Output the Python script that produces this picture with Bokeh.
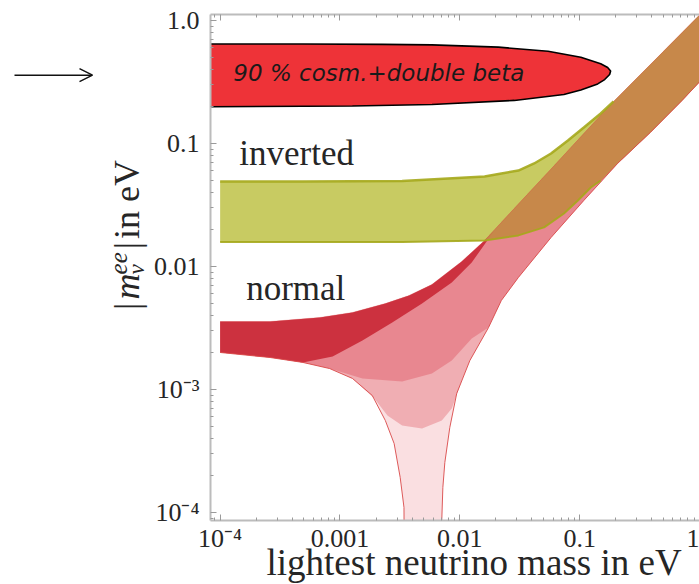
import math
from bokeh.plotting import figure
from bokeh.layouts import row
from bokeh.models import (Range1d, LogAxis, FixedTicker, CustomJSTickFormatter,
                          Label, Arrow, OpenHead, Title)
from bokeh.embed import file_html
from bokeh.resources import INLINE

# ---------------------------------------------------------------------------
# |m_ee| allowed regions versus the lightest neutrino mass (both in eV)
# ---------------------------------------------------------------------------

# inverted ordering: upper / lower edge of the band
io_upper_m = [1.0e-4, 4.90e-4, 3.30e-3, 0.0161, 0.0222, 0.0308, 0.0417, 0.0577,
              0.0798, 0.1083, 0.1499, 0.1919, 0.389, 0.953, 1.05]
io_upper_mee = [0.0491, 0.0491, 0.0495, 0.0539, 0.0570, 0.0603, 0.0688, 0.0830,
                0.1058, 0.1349, 0.1753, 0.2196, 0.4387, 1.058, 1.16]
io_lower_m = [1.0e-4, 4.90e-4, 3.30e-3, 0.0161, 0.0308, 0.0505, 0.0739, 0.0967,
              0.1238, 0.1499, 0.2072, 0.389, 0.716, 1.05]
io_lower_mee = [0.0158, 0.0158, 0.0158, 0.0163, 0.0179, 0.0208, 0.0270, 0.0344,
                0.0439, 0.0500, 0.0688, 0.1229, 0.2237, 0.333]

# normal ordering: upper edge
no_upper_m = [1.0e-4, 2.61e-4, 6.78e-4, 1.27e-3, 2.39e-3, 3.77e-3, 5.85e-3, 0.01037,
              0.0161, 0.0308, 0.0577, 0.1083, 0.1919, 0.389, 0.953, 1.05]
no_upper_mee = [0.00357, 0.00357, 0.00385, 0.00423, 0.00500, 0.00581, 0.00714, 0.01098,
                0.0163, 0.0322, 0.0620, 0.1206, 0.2196, 0.4387, 1.058, 1.16]

# normal ordering: lower edge (cancellation funnel reaches |m_ee| -> 0)
no_lower_m = [1.0e-4, 2.61e-4, 4.90e-4, 8.20e-4, 1.27e-3, 1.86e-3, 2.39e-3, 2.83e-3,
              3.18e-3, 3.42e-3, 3.52e-3, 7.06e-3, 7.08e-3, 7.22e-3, 7.50e-3, 8.25e-3,
              9.42e-3, 0.01213, 0.01736, 0.0222, 0.0308, 0.0577, 0.1083, 0.2072,
              0.389, 0.716, 1.05]
no_lower_mee = [0.00200, 0.00182, 0.00166, 0.00148, 0.00123, 8.94e-4, 5.60e-4, 3.64e-4,
                1.93e-4, 1.10e-4, 1.0e-6, 1.0e-6, 8.94e-5, 1.60e-4, 2.55e-4, 4.91e-4,
                9.28e-4, 1.72e-3, 3.19e-3, 5.29e-3, 8.14e-3, 0.0172, 0.0344, 0.0688,
                0.1229, 0.2237, 0.333]

# normal ordering: density contours of the scatter (outer -> inner)
no_outer_m = [1.0e-4, 2.61e-4, 4.90e-4, 8.20e-4, 1.27e-3, 1.935e-3, 2.49e-3, 3.30e-3,
              4.84e-3, 7.08e-3, 8.57e-3, 0.01037, 0.01213, 0.01736, 0.0222, 0.0308,
              0.0577, 0.1083, 0.2072, 0.389, 0.716, 1.05]
no_outer_mee = [0.00200, 0.00182, 0.00166, 0.00148, 0.00123, 8.45e-4, 6.14e-4, 5.10e-4,
                4.82e-4, 5.60e-4, 7.01e-4, 1.18e-3, 1.72e-3, 3.19e-3, 5.29e-3, 8.14e-3,
                0.0172, 0.0344, 0.0688, 0.1229, 0.2237, 0.333]
no_inner_m = [1.0e-4, 2.61e-4, 4.90e-4, 8.20e-4, 1.54e-3, 3.30e-3, 5.85e-3, 8.57e-3,
              0.01257, 0.01736, 0.0222, 0.0308, 0.0577, 0.1083, 0.2072, 0.389, 0.716, 1.05]
no_inner_mee = [0.00200, 0.00182, 0.00166, 0.00148, 1.23e-3, 1.16e-3, 1.35e-3, 1.72e-3,
                2.60e-3, 3.19e-3, 5.29e-3, 8.14e-3, 0.0172, 0.0344, 0.0688, 0.1229,
                0.2237, 0.333]

# normal ordering: densest strip (lower side; the upper side follows the band edge)
no_core_m = [1.0e-4, 2.61e-4, 4.90e-4, 8.68e-4, 1.54e-3, 2.73e-3, 4.84e-3, 8.57e-3,
             0.01257, 0.01919]
no_core_mee = [0.00200, 0.00182, 0.00166, 0.001855, 0.00250, 0.00350, 0.00500, 0.00741,
               0.01078, 0.01926]

# 90 % bound from cosmology + double beta decay
bound_m = [7.70e-5, 4.90e-4, 2.26e-3, 5.85e-3, 0.0210, 0.0545, 0.1023, 0.1499, 0.1713,
           0.1813, 0.1779, 0.1617, 0.1415, 0.1023, 0.0739, 0.0285, 5.85e-3, 1.27e-3,
           7.70e-5]
bound_mee = [0.644, 0.644, 0.640, 0.634, 0.607, 0.563, 0.503, 0.445, 0.415, 0.389,
             0.364, 0.331, 0.305, 0.272, 0.250, 0.224, 0.2075, 0.2018, 0.1988]

x_tick_values = [1e-4, 1e-3, 1e-2, 1e-1, 1.0]
x_tick_labels = ["10⁻⁴", "0.001", "0.01", "0.1", "1"]
y_tick_values = [1e-4, 1e-3, 1e-2, 1e-1, 1.0]
y_tick_labels = ["10⁻⁴", "10⁻³", "0.01", "0.1", "1.0"]

# ---------------------------------------------------------------------------
SERIF = "Liberation Serif"
TEXT = "#262626"
AXIS_GREY = "#bcbcbc"
TICK_GREY = "#9a9a9a"

SIDE_W = 150      # width of the strip holding the arrow and the vertical title
MAIN_W = 699 - SIDE_W
HEIGHT = 584
MID = 0.3375      # (ascent - descent) / 2 of the serif face, in em


def minor_ticks(lo_exp, hi_exp):
    return [m * 10.0 ** e for e in range(lo_exp, hi_exp) for m in range(2, 10)]


def tick_formatter(values, labels):
    return CustomJSTickFormatter(args=dict(vals=values, labs=labels), code="""
        for (let i = 0; i < vals.length; i++) {
            if (Math.abs(Math.log10(tick) - Math.log10(vals[i])) < 1e-6) { return labs[i]; }
        }
        return "";
    """)


# ---------------------------------------------------------------------------
# main panel
p = figure(width=MAIN_W, height=HEIGHT, x_axis_type="log", y_axis_type="log",
           x_range=Range1d(10 ** -4.0804, 1.0001),
           y_range=Range1d(10 ** -4.065, 10 ** 0.0488),
           output_backend="svg", toolbar_location=None,
           min_border_left=207 - SIDE_W, min_border_right=0,
           min_border_top=14, min_border_bottom=HEIGHT - 520)
p.grid.visible = False
p.outline_line_color = None
p.background_fill_color = "white"
p.border_fill_color = "white"


def style_axis(ax, ticker):
    ax.ticker = ticker
    ax.axis_line_color = AXIS_GREY
    ax.axis_line_width = 2
    ax.major_tick_in = 6
    ax.major_tick_out = 0
    ax.minor_tick_in = 3
    ax.minor_tick_out = 0
    ax.major_tick_line_color = TICK_GREY
    ax.minor_tick_line_color = TICK_GREY
    ax.major_label_text_font = SERIF
    ax.major_label_text_font_size = "26px"
    ax.major_label_text_color = TEXT


style_axis(p.xaxis[0], FixedTicker(ticks=x_tick_values, minor_ticks=minor_ticks(-5, 1)))
p.xaxis[0].formatter = tick_formatter(x_tick_values, x_tick_labels)
p.xaxis[0].major_label_standoff = 3

style_axis(p.yaxis[0], FixedTicker(ticks=y_tick_values, minor_ticks=minor_ticks(-5, 1)))
p.yaxis[0].formatter = tick_formatter(y_tick_values, y_tick_labels)
p.yaxis[0].major_label_standoff = 11

# frame line along the top, ticks only
top = LogAxis()
style_axis(top, FixedTicker(ticks=x_tick_values, minor_ticks=minor_ticks(-5, 1)))
top.formatter = CustomJSTickFormatter(code="return ' ';")
top.major_label_text_font_size = "2px"
top.major_label_standoff = 0
p.add_layout(top, "above")

# x axis title, tucked under the tick labels
p.add_layout(Title(text="lightest neutrino mass in eV", align="left", offset=56,
                   vertical_align="top", standoff=-28,
                   text_font=SERIF, text_font_size="37px", text_font_style="normal",
                   text_color=TEXT), "below")

# inverted band
p.patch(io_upper_m + io_lower_m[::-1], io_upper_mee + io_lower_mee[::-1],
        fill_color="#c8cb62", line_color=None)

# normal band, density levels
p.patch(no_upper_m + no_lower_m[::-1], no_upper_mee + no_lower_mee[::-1],
        fill_color="#e03a46", fill_alpha=0.16, line_color=None)
p.patch(no_upper_m + no_outer_m[::-1], no_upper_mee + no_outer_mee[::-1],
        fill_color="#d8303e", fill_alpha=0.28, line_color=None)
p.patch(no_upper_m + no_inner_m[::-1], no_upper_mee + no_inner_mee[::-1],
        fill_color="#d8303e", fill_alpha=0.30, line_color=None)
n_core = sum(1 for m in no_upper_m if m <= 0.0162)
p.patch(no_upper_m[:n_core] + no_core_m[::-1], no_upper_mee[:n_core] + no_core_mee[::-1],
        fill_color="#c41c2a", fill_alpha=0.80, line_color=None)

# where both orderings overlap
k_no = n_core - 1
k_io = sum(1 for m in io_lower_m if m < 0.016)
p.patch(no_upper_m[k_no:] + io_lower_m[k_io:][::-1],
        no_upper_mee[k_no:] + io_lower_mee[k_io:][::-1],
        fill_color="#c68a4a", fill_alpha=0.92, line_color=None)

p.line(no_lower_m, no_lower_mee, line_color="#d94848", line_width=0.9)
p.line(no_upper_m, no_upper_mee, line_color="#d94848", line_width=0.7, line_alpha=0.35)

# olive edges of the inverted band
p.line(io_upper_m[:12], io_upper_mee[:12], line_color="#a5a91c", line_width=2.5, line_alpha=0.9)
p.line(io_lower_m[:10], io_lower_mee[:10], line_color="#a5a91c", line_width=2.0, line_alpha=0.9)

# bound region
p.patch(bound_m, bound_mee, fill_color="#ee3338", line_color="black", line_width=1.6)
p.add_layout(Label(x=2.11e-3, y=0.371, text="90 % cosm.+double beta",
                   text_font="DejaVu Sans", text_font_style="italic",
                   text_font_size="23px", text_color="#1a1a1a",
                   text_align="center", text_baseline="middle"))

# band names
p.add_layout(Label(x=1.445e-4, y=0.0826, text="inverted", text_font=SERIF,
                   text_font_size="35px", text_color=TEXT, text_baseline="middle"))
p.add_layout(Label(x=1.65e-4, y=0.0066, text="normal", text_font=SERIF,
                   text_font_size="35px", text_color=TEXT, text_baseline="middle"))

# ---------------------------------------------------------------------------
# left strip: arrow and the vertical title |m_nu^ee| in eV (pixel coordinates)
side = figure(width=SIDE_W, height=HEIGHT, x_range=Range1d(0, SIDE_W),
              y_range=Range1d(HEIGHT, 0), x_axis_location=None, y_axis_location=None,
              min_border=0, toolbar_location=None, output_backend="svg")
side.grid.visible = False
side.outline_line_color = None
side.background_fill_color = "white"
side.border_fill_color = "white"

side.add_layout(Arrow(end=OpenHead(size=13, line_width=1.5, line_color="#111111"),
                      x_start=14, y_start=70, x_end=92, y_end=70,
                      line_color="#111111", line_width=1.5))

ylab = [  # text, baseline x, start y, style, size
    ("|", 139, 341, "normal", 36),
    ("m", 139, 329, "italic", 36),
    ("ee", 126, 300, "italic", 25),
    ("ν", 144, 300, "italic", 23),
    ("|", 139, 271, "normal", 36),
    ("in eV", 139, 259, "normal", 36),
]
for txt, bx, cy, style, size in ylab:
    side.add_layout(Label(x=bx - MID * size, y=cy, text=txt, angle=math.pi / 2,
                          text_font=SERIF, text_font_style=style,
                          text_font_size=f"{size}px", text_color=TEXT,
                          text_align="left", text_baseline="middle"))

page = row(side, p, spacing=0)
open("out.html", "w").write(file_html(page, INLINE))
